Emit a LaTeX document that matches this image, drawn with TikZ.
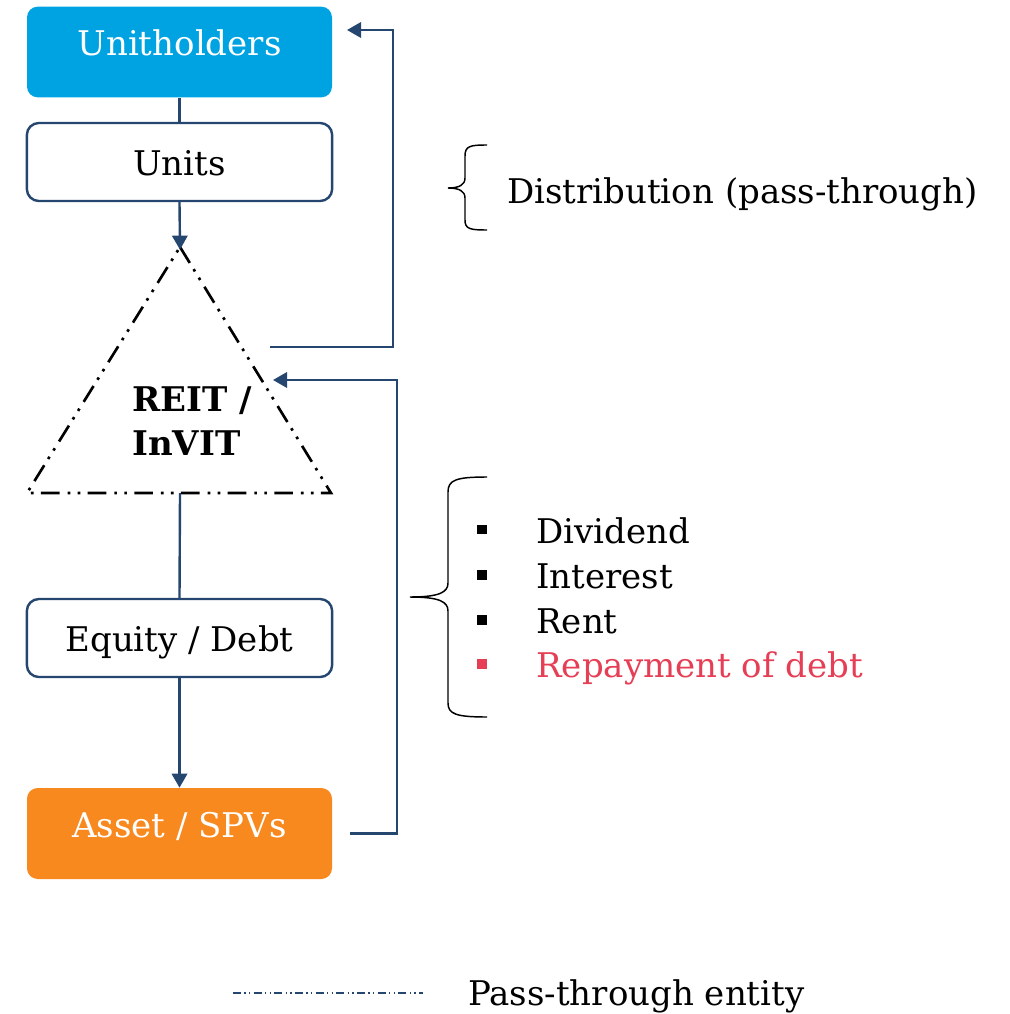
\documentclass[tikz,border=0pt]{standalone}
\usepackage{fontspec}
\setmainfont{DejaVu Serif}
\usetikzlibrary{arrows.meta}
\definecolor{navy}{RGB}{37,70,110}
\definecolor{skyblue}{RGB}{0,163,226}
\definecolor{tangerine}{RGB}{247,137,31}
\definecolor{debtred}{RGB}{230,62,85}
\begin{document}
\begin{tikzpicture}[x=0.75pt,y=-0.75pt,
  txt/.style={font=\fontsize{25.5}{30}\selectfont, inner sep=0pt, anchor=base},
  fillbox/.style={rounded corners=8pt, minimum width=228.75pt, minimum height=68pt, inner sep=0pt},
  linebox/.style={draw=navy, line width=1.8pt, rounded corners=9pt, fill=white,
    minimum width=229pt, minimum height=58.5pt, inner sep=0pt},
  conn/.style={draw=navy, line width=1.8pt},
  arr/.style={conn, -{Triangle[length=10.5pt,width=11.5pt]}},
  passthrough/.style={line width=2pt,
    dash pattern=on 14pt off 5.5pt on 2pt off 5.5pt on 2pt off 6pt},
  bracepath/.style={line width=1.1pt},
  bul/.style={fill, minimum size=6.8pt, inner sep=0pt},
]
\useasboundingbox (0,0) rectangle (1010,1014);

% left column boxes
\node[fillbox, fill=skyblue] (uh) at (179.5,52) {};
\node[txt, text=white] (uhtxt) at (179.5,55) {Unitholders};
\node[linebox] (un) at (179.5,162) {};
\node[txt] (untxt) at (179.5,175) {Units};
\node[linebox] (eq) at (179.5,638) {};
\node[txt] (eqtxt) at (179.5,651) {Equity / Debt};
\node[fillbox, fill=tangerine, minimum height=68.25pt] (as) at (179.5,833.5) {};
\node[txt, text=white] (astxt) at (179.5,837) {Asset / SPVs};

% pass-through entity
\coordinate (tA) at (180,247);
\coordinate (tL) at (27,493);
\coordinate (tR) at (331,493);
\coordinate (tB) at (180,493);
\draw[passthrough] (tA) -- (tR) -- (tL) -- cycle;
\node[txt, anchor=base west, font=\fontsize{25.5}{30}\selectfont\bfseries] (reit) at (132,411) {REIT /};
\node[txt, anchor=base west, font=\fontsize{25.5}{30}\selectfont\bfseries] (invit) at (132,455) {InVIT};

% vertical flow
\draw[conn] (uh.south) -- (un.north);
\draw[arr] (un.south) -- ([yshift=-2pt]tA);
\draw[conn] (tB) -- (eq.north);
\draw[arr] (eq.south) -- (as.north);

% return flows
\coordinate (asout) at (350,833.5);
\coordinate (reitin) at (273,380);
\coordinate (reitout) at (270,347);
\coordinate (uhin) at (347,30);
\draw[arr] (asout) -| (397,380) -- (reitin);
\draw[arr] (reitout) -| (393,30) -- (uhin);

% distribution brace
\draw[bracepath] (487,145) .. controls (470,145) and (465,146) .. (465,156) -- (465,178)
  .. controls (465,185) and (459,188) .. (448,188)
  .. controls (459,188) and (465,191) .. (465,198) -- (465,220)
  .. controls (465,229) and (470,230) .. (487,230);
\node[txt, anchor=base west] (dist) at (507,203) {Distribution (pass-through)};

% cash flows brace and list
\draw[bracepath] (487,477) .. controls (456,477) and (448,480) .. (448,492) -- (448,583)
  .. controls (448,592) and (440,597) .. (410,597)
  .. controls (440,597) and (448,602) .. (448,611) -- (448,703)
  .. controls (448,714) and (456,717) .. (487,717);
\node[bul] (b1) at (482,529.5) {};
\node[bul] (b2) at (482,575) {};
\node[bul] (b3) at (482,620) {};
\node[bul, fill=debtred] (b4) at (482,664) {};
\node[txt, anchor=base west] (l1) at (536,543) {Dividend};
\node[txt, anchor=base west] (l2) at (536,588) {Interest};
\node[txt, anchor=base west] (l3) at (536,633) {Rent};
\node[txt, anchor=base west, text=debtred] (l4) at (536,677) {Repayment of debt};

% legend
\coordinate (lg1) at (233,993);
\coordinate (lg2) at (423,993);
\draw[navy, line width=1pt, dash pattern=on 6pt off 2.5pt on 1pt off 2.5pt on 1pt off 2.5pt] (lg1) -- (lg2);
\node[txt, anchor=base west] (lgtxt) at (468,1005) {Pass-through entity};
\end{tikzpicture}
\end{document}
